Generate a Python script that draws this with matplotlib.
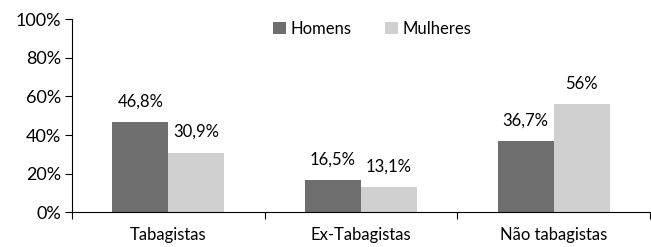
import matplotlib
matplotlib.use("Agg")
import matplotlib.pyplot as plt
import numpy as np

categories = ["Tabagistas", "Ex-Tabagistas", "Não tabagistas"]
homens = [46.8, 16.5, 36.7]
mulheres = [30.9, 13.1, 56.0]
homens_labels = ["46,8%", "16,5%", "36,7%"]
mulheres_labels = ["30,9%", "13,1%", "56%"]
yticks = [0, 20, 40, 60, 80, 100]

plt.rcParams["font.family"] = ["Lato", "DejaVu Sans"]

fig = plt.figure(figsize=(6.51, 2.47), dpi=100)
ax = fig.add_axes([72 / 651, 35 / 247, 578 / 651, 192.5 / 247])

x = np.arange(len(categories))
w = 0.29
b1 = ax.bar(x - w / 2, homens, w, color="#6e6e6e", label="Homens")
b2 = ax.bar(x + w / 2, mulheres, w, color="#d0d0d0", label="Mulheres")

for bars, labels in ((b1, homens_labels), (b2, mulheres_labels)):
    for rect, lab in zip(bars, labels):
        ax.annotate(lab, (rect.get_x() + rect.get_width() / 2, rect.get_height()),
                    xytext=(0, 9), textcoords="offset points",
                    ha="center", va="bottom", fontsize=12)

ax.set_xlim(-0.5, len(categories) - 0.5)
ax.set_ylim(0, 100)
ax.set_yticks(yticks)
ax.set_yticklabels([f"{t}%" for t in yticks], fontsize=13)
ax.set_xticks(np.arange(len(categories) + 1) - 0.5)
ax.set_xticklabels([])
ax.set_xticks(x, minor=True)
ax.set_xticklabels(categories, minor=True, fontsize=12)
ax.tick_params(axis="x", which="minor", length=0, pad=11)
ax.tick_params(axis="x", which="major", length=5, direction="out")
ax.tick_params(axis="y", length=5, direction="out", pad=3)

for s in ("top", "right"):
    ax.spines[s].set_visible(False)

ax.legend(loc="upper center", ncol=2, frameon=False, fontsize=12,
          bbox_to_anchor=(0.52, 1.07), handlelength=0.75, handleheight=0.75,
          handletextpad=0.3, columnspacing=2.0)

fig.savefig("out.png", dpi=100)
